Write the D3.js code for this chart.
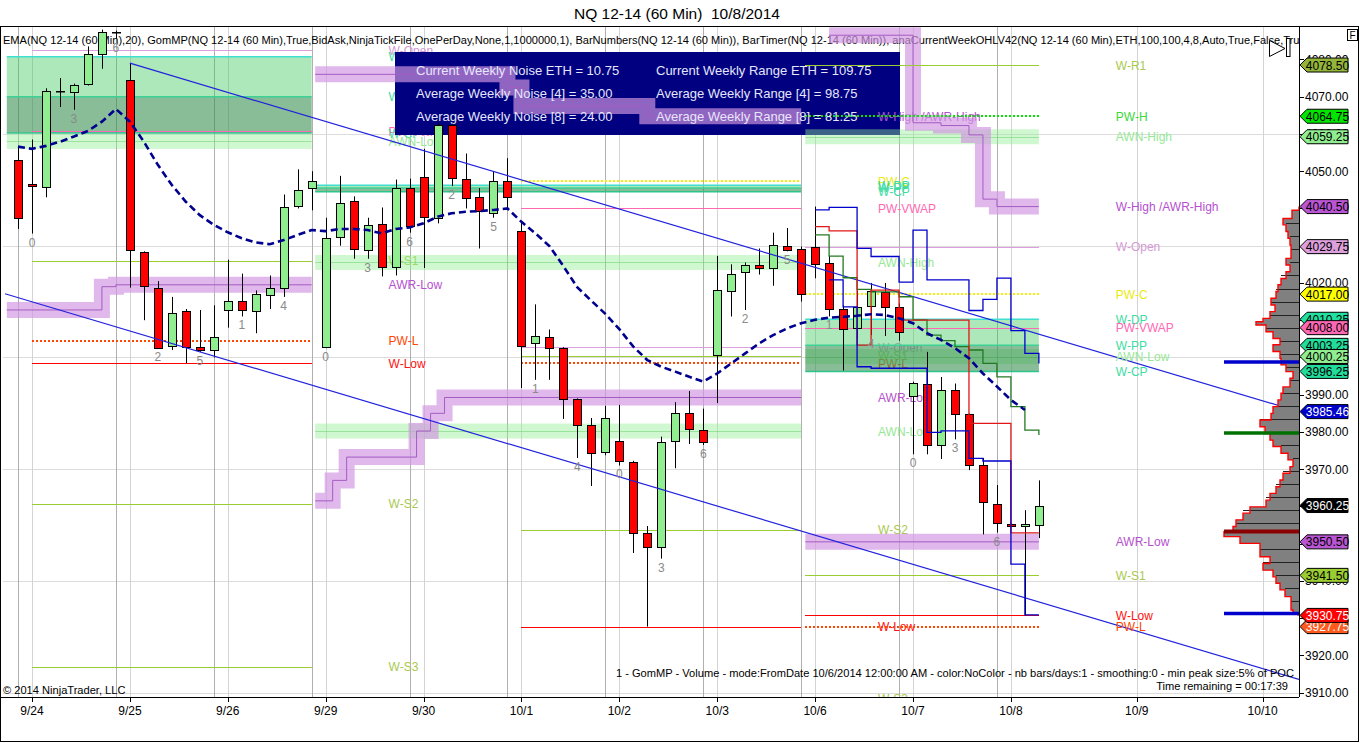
<!DOCTYPE html>
<html><head><meta charset="utf-8">
<script src="https://cdn.jsdelivr.net/npm/d3@7/dist/d3.min.js"></script>
<style>
html,body{margin:0;padding:0;background:#fff;}
svg{display:block;font-family:"Liberation Sans",Arial,Helvetica,sans-serif;}
</style></head><body>
<svg id="chart" width="1360" height="743"></svg>
<script>
// ================= DATA =================
// hourly bars, index 0 = last bar of 9/23
const opens = [4053,4046.5,4045.75,4071.5,4071.5,4073.5,4081.5,4087.5,4074.5,4028.25,
4018.75,4003.25,4012.5,4002.75,4002,4012.75,4015.25,4012.5,4017,4018.75,
4040.75,4045.25,4002.75,4032.25,4042,4028.75,4035.75,4024.25,4045.5,4048.5,
4037.5,4062.5,4048,4043,4038.75,4047.25,4034,4003.75,4005.5,4002.5,
3988.75,3982,3974.5,3977.5,3972,3953,3949,3977.5,3985,3980.5,
4000.5,4018,4023,4024.75,4024,4030,4029,4029.75,4025.25,4013,
4007.75,4013.75,4017.5,4013.5,3989.75,3993,3976.5,3991.25,3984.75,3971,
3960.75,3955.25,3954.75,3955.25];
const highs = [4056.5,4058.5,4072.25,4075,4073.5,4083.5,4088,4087.75,4079,4028.5,
4020.5,4016.25,4013,4012.75,4014,4026.25,4022.5,4018,4022,4043.75,
4050.5,4050,4037.5,4048.75,4043.25,4037.5,4040.25,4047.75,4048,4056,
4063,4062.75,4054.75,4045.5,4050,4053.5,4036.5,4014.25,4007.5,4002.75,
3989,3983.75,3987,3987.25,3972.25,3954.75,3978.75,3988,3991,3986.25,
4027.25,4025,4025.5,4029.25,4033.5,4034.75,4029.75,4040.5,4027.25,4014,
4018,4020,4020,4014.5,3993.5,4001.5,3994.75,3993,3985,3973,
3965.75,3955.5,3959,3967];
const lows = [4034.5,4033.25,4043,4067.25,4066.5,4073,4077.5,4085.5,4018.75,4010,
4002.5,4002,3998.5,4001.5,4000,4008,4011,4006.5,4013,4016.25,
4040,4039.5,4002.5,4030,4026.5,4026.5,4021.75,4022,4033.5,4024,
4036,4046,4040,4029.25,4037.5,4040.25,3991.75,3994,3994,3983.5,
3973,3965.5,3973.75,3971,3947.5,3927.75,3946,3970.25,3976.75,3976.5,
3987.75,4011,4012.75,4022.25,4019.25,4028.5,4015,4021.25,4011,3996.5,
4005,4006,4005.75,4004.5,3974,3974,3972.75,3978,3969.75,3952.5,
3953,3954.5,3930.75,3951.5];
const closes = [4037.5,4046,4071.5,4071.5,4073.25,4081.5,4087.5,4087.5,4028.75,4019,
4002.75,4012,4002.75,4002,4005.5,4015.25,4012.75,4017,4018.75,4040.5,
4045,4047.25,4032,4041.5,4029,4035.5,4024.25,4045.5,4035.25,4037.75,
4062.5,4048.25,4043,4039.25,4047.25,4043,4003.25,4005.75,4002.5,3988.75,
3981.75,3974.5,3983.75,3972,3953,3949.25,3977.25,3985,3980.75,3977.25,
4018,4022.5,4024.75,4024,4030.25,4029,4017,4025.25,4013,4007.75,
4013.5,4017.75,4013.5,4006.75,3993.25,3976.5,3991.25,3984.75,3971,3961,
3955.75,3954.75,3955.25,3960.25];

// EMA(20), bars 0..72
const emaValues = [4056.6,4056.0,4056.8,4057.9,4059.3,4060.8,4063.3,4066.7,4063.3,4057.9,
4051.7,4046.3,4041.8,4038.2,4035.6,4033.6,4032.0,4030.9,4030.4,4031.5,
4032.9,4034.2,4033.9,4034.5,4034.5,4034.2,4033.3,4034.5,4034.9,4036.0,
4037.8,4038.7,4039.1,4039.3,4039.6,4040.0,4036.4,4033.3,4029.9,4024.5,
4018.8,4015.2,4011.7,4007.6,4002.9,3999.3,3997.5,3996.2,3994.8,3993.5,
3995.7,3998.4,4001.1,4003.8,4006.0,4007.8,4009.2,4010.1,4010.7,4010.9,
4011.2,4011.6,4011.4,4010.5,4009.2,4006.5,4004.7,4002.5,3999.8,3995.7,
3992.2,3988.6,3985.9];

// step lines of the current week (bars 57..73, lower blue 58..73)
const stepBlueHigh = [4039.6,4040.3,4040.3,4029.3,4027.1,4027.1,4020.2,4034.2,4020.8,4020.8,4020.8,4012.6,4015.6,4021.3,4007.2,4001.1,3998.4];
const stepRed = [4035.1,4034.0,4034.0,4003.3,4018.1,4018.1,4010.0,4010.0,4010.0,4010.0,4010.0,3982.3,3982.3,3982.3,3952.9,3952.9,3952.9];
const stepGreen = [4032.9,4027.2,4021.4,4018.3,4017.6,4017.6,4016.3,4010.1,4006.0,4004.5,4002.9,4002.0,3998.4,3994.8,3986.8,3980.5,3979.2];
const stepBlueLow = [4020.8,4013.6,3997.5,3997.1,3997.1,3997.1,3997.1,3979.9,3980.3,3980.3,3972.9,3972.2,3972.2,3944.5,3930.9,3930.9];

// dates on the time axis
const dateLabels = ['9/24','9/25','9/26','9/29','9/30','10/1','10/2','10/3','10/6','10/7','10/8','10/9','10/10'];
const dateIdx = [1,8,15,22,29,36,43,50,57,64,71,80,89];
const sessionEndIdx = [0,7,14,21,28,35,42,49,56,63,70];

// price axis
const priceTicks = [3910,3920,3930,3940,3950,3960,3970,3980,3990,4000,4010,4020,4030,4040,4050,4060,4070,4080];
const gridLevels = [3910,3940,3970,4000,4030,4060];

// weekly levels (three weekly segments)
const weekALevels = [['W-Open',4082.5],['W-DP',4080.75],['W-PP',4070],['PW-VWAP',4060.75],['W-CP',4060.25],['AWN-Low',4058],['W-S1',4026],['AWR-Low',4019.5],['PW-L',4004.5],['W-Low',3998.5],['W-S2',3960.75],['W-S3',3917]];
const weekBLevels = [['W-High /AWR-High',4064.75],['PW-C',4047.25],['W-DP',4046.25],['W-PP',4045.5],['W-CP',4044.5],['PW-VWAP',4040],['AWN-High',4025.5],['W-Open',4002.75],['W-S1',4000.5],['PW-L',3998.5],['AWR-Low',3989.25],['AWN-Low',3980.25],['W-S2',3953.75],['W-Low',3927.75],['W-S3',3908.5]];
const weekCLevels = [['W-R1',4078.5],['PW-H',4064.75],['AWN-High',4059.25],['W-High /AWR-High',4040.5],['W-Open',4029.75],['PW-C',4017],['W-DP',4010.25],['PW-VWAP',4008],['W-PP',4003.25],['AWN-Low',4000.25],['W-CP',3996.25],['AWR-Low',3950.5],['W-S1',3941.5],['W-Low',3930.75],['PW-L',3927.75]];
// bar-index spans of each week's drawings
const weekASpan = {line:[1,21], band:[-0.8,21]};
const weekBSpan = {line:[36,56], band:[21.25,56]};
const weekCSpan = {line:[56.3,73], band:[56.3,73]};

// average weekly range bands (bar index, price)
const awrLowA = [[-0.8,4012.75],[6,4019],[7,4019.5],[21,4019.5]];
const awrHighB = [[21.25,4076],[35,4072.5],[36,4067.5],[45,4064.75],[56,4064.75]];
const awrLowB = [[21.25,3961.5],[22.5,3967],[23.5,3973.25],[28.5,3980.25],[29.5,3985],[30.5,3989.25],[56,3989.25]];
const awrHighC = [[58,4086.5],[64,4063],[66,4062.25],[68,4059.75],[69,4042.5],[70,4040.5],[73,4040.5]];
const awrLowC = [[56.3,3950.5],[73,3950.5]];

// regression channel
const channelUpper = [[8,4079.0],[91.6,3985.46]];
const channelLower = [[-0.93,4017.1],[91.6,3913.56]];

// info box
const noiseLabels = ['Current Weekly Noise ETH','Average Weekly Noise [4]','Average Weekly Noise [8]'];
const noiseValues = [10.75,35.00,24.00];
const rangeLabels = ['Current Weekly Range ETH','Average Weekly Range [4]','Average Weekly Range [8]'];
const rangeValues = [109.75,98.75,81.25];

// GomMP volume profile (price, relative volume)
const profPrice = [4040.5,4039.5,4037.3,4035.6,4033.8,4032,4030.2,4028.4,4026.6,4024.8,4023,4021.2,4019.5,4017.7,4015.9,4014.1,4012.3,4010.5,4009.6,4008.7,4006.9,4005.1,4003.4,4001.6,3999.8,3998,3996.2,3994.4,3992.1,3990.4,3988.6,3986.8,3985,3983.2,3981.4,3979.6,3977.8,3976.1,3974.3,3972.5,3970.7,3968.9,3967.1,3965.3,3963.5,3961.7,3959.9,3958.2,3956.4,3954.6,3953.2,3951.9,3950.1,3948.3,3946.5,3944.7,3942.9,3941.1,3939.4,3937.6,3935.8,3934,3932.2,3931.3,3930.75];
const profVol = [0,7,16,13,11,9,8,8,13,9,13,18,21,23,28,24,29,36,43,33,26,19,26,19,18,13,6,9,16,18,21,26,28,39,34,29,26,18,11,6,9,16,19,23,29,33,49,56,63,66,75,59,39,39,29,36,26,23,19,14,8,8,6,1,0];
const profLines = [4036,4032.5,4029,4025.5,4022,4018.5,4015,4011.5,4008,4004.5,4001,3997.5,3994,3990.5,3987,3983.5,3980,3976.5,3973,3969.5,3966,3962.5,3959,3955.5,3948.5,3945,3941.5,3938,3934.5];
const pocLevel = 3953.25;
const valueAreaLevels = [3998.75,3979.75,3931.25];

// right-axis price markers
const flagValues = [4078.5,4064.75,4059.25,4040.5,4029.75,4017,4010.25,4008,4003.25,4000.25,3996.25,3985.46,3960.25,3950.5,3941.5,3927.75,3930.75];
const flagKinds = ['W-R1','PW-H','AWN-High','W-High','W-Open','PW-C','W-DP','PW-VWAP','W-PP','AWN-Low','W-CP','Channel','Last','AWR-Low','W-S1','PW-L','W-Low'];

// ================= STYLES =================
const lineStyle = {
 'W-R1':['#9acd32',0],'PW-H':['#00e400',1],'W-Open':['#dc9edc',0],'PW-C':['#f0f000',1],
 'PW-VWAP':['#ff69b4',0],'W-S1':['#9acd32',0],'W-S2':['#9acd32',0],'W-S3':['#9acd32',0],
 'PW-L':['#ff4500',1],'W-Low':['#ff0000',0]
};
const labelColor = {
 'W-R1':'#a9c94f','PW-H':'#38d838','AWN-High':'#95e895','AWN-Low':'#95e895',
 'W-High /AWR-High':'#b550d0','AWR-Low':'#b550d0','W-Open':'#d49ad4','PW-C':'#eaea10',
 'W-DP':'#3ddca2','W-PP':'#3ddca2','W-CP':'#3ddca2','PW-VWAP':'#ff69b4',
 'W-S1':'#a9c94f','W-S2':'#a9c94f','W-S3':'#a9c94f','PW-L':'#ff4500','W-Low':'#ff1010'
};
const flagFill = {
 'W-R1':'#94b53a','PW-H':'#00e600','AWN-High':'#90ee90','W-High':'#ba55d3','W-Open':'#dda0dd',
 'PW-C':'#ffff00','W-DP':'#22e0a0','PW-VWAP':'#ff69b4','W-PP':'#22dc9c','AWN-Low':'#90ee90',
 'W-CP':'#22dc9c','Channel':'#0000cd','Last':'#000000','AWR-Low':'#ba55d3','W-S1':'#9acd32',
 'PW-L':'#ff5a1e','W-Low':'#ff0000'
};
const flagText = {'Channel':'#fff','Last':'#fff','PW-L':'#fff','W-Low':'#fff'};

// ================= CHART =================
const svg = d3.select('#chart');
const PL=3, PR=1299, PT=27, PB=697;
const x = d3.scaleLinear().domain([-0.93, 91.6]).range([5, PR]);
const y = d3.scaleLinear().domain([3908.85, 4088.44]).range([PB, 28]);

svg.append('rect').attr('width',1360).attr('height',743).attr('fill','#fff');
svg.append('defs').append('clipPath').attr('id','plotClip')
  .append('rect').attr('x',PL).attr('y',PT).attr('width',PR-PL).attr('height',PB-PT);
const plot = (name)=>svg.append('g').attr('class',name).attr('clip-path','url(#plotClip)');

// ---- grid
const gGrid = plot('grid');
gGrid.selectAll('line.hg').data(gridLevels).join('line')
  .attr('x1',PL).attr('x2',PR).attr('y1',d=>Math.round(y(d))+0.5).attr('y2',d=>Math.round(y(d))+0.5)
  .attr('stroke','#dcdcdc');
gGrid.selectAll('line.vs').data(sessionEndIdx).join('line')
  .attr('x1',d=>Math.round(x(d))+0.5).attr('x2',d=>Math.round(x(d))+0.5).attr('y1',PT).attr('y2',PB)
  .attr('stroke','#b0b0b0');
gGrid.selectAll('line.vd').data(dateIdx).join('line')
  .attr('x1',d=>Math.round(x(d))+0.5).attr('x2',d=>Math.round(x(d))+0.5).attr('y1',PT).attr('y2',PB)
  .attr('stroke','#d4d4d4');
gGrid.append('text').attr('x',3).attr('y',44).attr('font-size',11.05).attr('fill','#000')
  .text('EMA(NQ 12-14 (60 Min),20), GomMP(NQ 12-14 (60 Min),True,BidAsk,NinjaTickFile,OnePerDay,None,1,1000000,1), BarNumbers(NQ 12-14 (60 Min)), BarTimer(NQ 12-14 (60 Min)), anaCurrentWeekOHLV42(NQ 12-14 (60 Min),ETH,100,100,4,8,Auto,True,False,True)');

// ---- helpers
function drawLabels(g, levels, span){
  const lx = x(span.line[1] + 5.5);
  g.selectAll(null).data(levels).join('text')
    .attr('x',lx).attr('y',d=>y(d[1])+4.5).attr('font-size',12)
    .attr('fill',d=>labelColor[d[0]]).text(d=>d[0]);
}
function drawAwnBands(g, levels, span){
  const x1=x(span.band[0]), x2=x(span.band[1]);
  levels.filter(d=>d[0]==='AWN-High'||d[0]==='AWN-Low').forEach(d=>{
    g.append('rect').attr('x',x1).attr('width',x2-x1).attr('y',y(d[1])-7.5).attr('height',15)
      .attr('fill','rgba(144,238,144,0.42)');
    g.append('line').attr('x1',x1).attr('x2',x2).attr('y1',Math.round(y(d[1]))+0.5).attr('y2',Math.round(y(d[1]))+0.5)
      .attr('stroke','rgba(110,210,110,0.55)').attr('stroke-width',1);
  });
}
function drawBox(g, levels, span){
  const get = n => { const f = levels.find(d=>d[0]===n); return f ? f[1] : null; };
  const dp=get('W-DP'), pp=get('W-PP'), cp=get('W-CP');
  const x1=x(span.band[0]), x2=x(span.band[1]);
  g.append('rect').attr('x',x1).attr('width',x2-x1).attr('y',y(dp)).attr('height',y(cp)-y(dp))
    .attr('fill','rgba(60,200,90,0.42)');
  g.append('rect').attr('x',x1).attr('width',x2-x1).attr('y',y(pp)).attr('height',y(cp)-y(pp))
    .attr('fill','rgba(40,80,60,0.28)');
  [[dp,'#40e0d0'],[pp,'#3cd296'],[cp,'#2fc48c']].forEach(([v,c])=>{
    g.append('line').attr('x1',x1).attr('x2',x2).attr('y1',y(v)).attr('y2',y(v))
      .attr('stroke',c).attr('stroke-width',1.5);
  });
}
function drawLevelLines(g, levels, span){
  const x1=x(span.line[0]), x2=x(span.line[1]);
  levels.filter(d=>lineStyle[d[0]]).forEach(d=>{
    const [c,dot]=lineStyle[d[0]];
    const yy = dot ? Math.round(y(d[1])) : Math.round(y(d[1]))+0.5;
    g.append('line').attr('x1',x1).attr('x2',x2).attr('y1',yy).attr('y2',yy)
      .attr('stroke',c).attr('stroke-width',dot?2:1)
      .attr('shape-rendering','crispEdges')
      .attr('stroke-dasharray',dot?'2,2':null);
  });
}
const stepLine = d3.line().x(d=>x(d[0])).y(d=>y(d[1])).curve(d3.curveStepAfter);
function drawAwr(g, pts){
  g.append('path').attr('d',stepLine(pts)).attr('fill','none')
    .attr('stroke','rgba(210,150,226,0.68)').attr('stroke-width',16).attr('stroke-linejoin','miter');
  g.append('path').attr('d',stepLine(pts)).attr('fill','none')
    .attr('stroke','#a45cc4').attr('stroke-width',1);
}

// ---- week A labels (under the info box)
drawLabels(plot('labelsA'), weekALevels, weekASpan);

// ---- info box
const gBox = svg.append('g');
gBox.append('rect').attr('x',395).attr('y',52).attr('width',505).attr('height',83).attr('fill','#000080');

// ---- week B labels
drawLabels(plot('labelsB'), weekBLevels, weekBSpan);

// ---- bands, boxes
const gBands = plot('bands');
drawAwnBands(gBands, weekALevels, weekASpan);
drawAwnBands(gBands, weekBLevels, weekBSpan);
drawAwnBands(gBands, weekCLevels, weekCSpan);
drawBox(gBands, weekALevels, weekASpan);
drawBox(gBands, weekBLevels, weekBSpan);
drawBox(gBands, weekCLevels, weekCSpan);
[awrLowA, awrHighB, awrLowB, awrHighC, awrLowC].forEach(p=>drawAwr(gBands,p));

// ---- level lines
const gLines = plot('levels');
drawLevelLines(gLines, weekALevels, weekASpan);
drawLevelLines(gLines, weekBLevels, weekBSpan);
drawLevelLines(gLines, weekCLevels, weekCSpan);

// ---- info text
const gInfo = svg.append('g').attr('font-size',13).attr('fill','#e6e6fa');
gInfo.selectAll(null).data(noiseLabels).join('text')
  .attr('x',416).attr('y',(d,i)=>75+i*23).text((d,i)=>d+' = '+noiseValues[i].toFixed(2));
gInfo.selectAll(null).data(rangeLabels).join('text')
  .attr('x',656).attr('y',(d,i)=>75+i*23).text((d,i)=>d+' = '+rangeValues[i].toFixed(2));

// ---- candles
const bars = opens.map((o,i)=>({i,o,h:highs[i],l:lows[i],c:closes[i]}));
const gC = plot('candles');
gC.selectAll('line.w').data(bars).join('line')
  .attr('x1',d=>Math.round(x(d.i))+0.5).attr('x2',d=>Math.round(x(d.i))+0.5)
  .attr('y1',d=>y(d.h)).attr('y2',d=>y(d.l)).attr('stroke','#000').attr('stroke-width',1);
gC.selectAll('rect.b').data(bars).join('rect')
  .attr('x',d=>Math.round(x(d.i))-3.5).attr('width',8)
  .attr('y',d=>Math.round(y(Math.max(d.o,d.c)))+0.5)
  .attr('height',d=>Math.max(0.5,Math.round(Math.abs(y(d.o)-y(d.c)))))
  .attr('fill',d=>d.c>d.o?'#90ee90':(d.c<d.o?'#ff0000':'#000'))
  .attr('stroke','#000').attr('stroke-width',1);

// ---- regression channel
const gReg = plot('channel');
[channelUpper, channelLower].forEach(p=>{
  gReg.append('line').attr('x1',x(p[0][0])).attr('y1',y(p[0][1])).attr('x2',x(p[1][0])).attr('y2',y(p[1][1]))
    .attr('stroke','#2222dd').attr('stroke-width',1.2);
});

// ---- step lines of current week
const gStep = plot('steps');
const mk = (arr, start)=>arr.map((v,k)=>[start+k, v]);
[[stepGreen,57,'#237a23'],[stepRed,57,'#e01818'],[stepBlueHigh,57,'#0000cc'],[stepBlueLow,58,'#0000cc']].forEach(([arr,s,c])=>{
  gStep.append('path').attr('d',stepLine(mk(arr,s))).attr('fill','none').attr('stroke',c).attr('stroke-width',1.3);
});

// ---- EMA
plot('ema').append('path')
  .attr('d',d3.line().x((d,i)=>x(i)).y(d=>y(d))(emaValues))
  .attr('fill','none').attr('stroke','#00008f').attr('stroke-width',2.6).attr('stroke-dasharray','7,4');

// ---- bar numbers
const numbered = bars.filter(d=>d.i>=1 && d.i<=70 && (d.i-1)%3===0);
plot('barnums').selectAll('text').data(numbered).join('text')
  .attr('x',d=>x(d.i)).attr('y',d=>y(d.l)+13).attr('text-anchor','middle')
  .attr('font-size',12).attr('fill','#8a8a8a').text(d=>(d.i-1)%7);

// ---- week C labels
drawLabels(plot('labelsC'), weekCLevels, weekCSpan);

// ---- volume profile
const gP = svg.append('g');
const vol = d3.scaleLinear().domain([0,d3.max(profVol)]).range([0,75]);
const pts=[[PR,y(profPrice[0])]];
for(let k=0;k<profPrice.length-1;k++){
  pts.push([PR-vol(profVol[k]),y(profPrice[k])]);
  pts.push([PR-vol(profVol[k]),y(profPrice[k+1])]);
}
pts.push([PR,y(profPrice[profPrice.length-1])]);
gP.append('path').attr('d',d3.line()(pts)+'Z').attr('fill','#808080').attr('stroke','none');
profLines.forEach(L=>{
  let k=d3.leastIndex(profPrice,p=>Math.abs(p-L));
  const yy=Math.round(y(L))+0.5;
  gP.append('line').attr('x1',PR-vol(profVol[k])).attr('x2',PR).attr('y1',yy).attr('y2',yy).attr('stroke','#222').attr('stroke-width',1);
});
gP.append('path').attr('d',d3.line()(pts.slice(1,-1))).attr('fill','none').attr('stroke','#ff0000').attr('stroke-width',1.4);
gP.append('line').attr('x1',PR-vol(d3.max(profVol))).attr('x2',PR).attr('y1',y(pocLevel)).attr('y2',y(pocLevel))
  .attr('stroke','#8b0000').attr('stroke-width',4);
valueAreaLevels.forEach((v,i)=>{
  gP.append('line').attr('x1',PR-vol(d3.max(profVol))).attr('x2',PR).attr('y1',y(v)).attr('y2',y(v))
    .attr('stroke',i===1?'#007000':'#0000cc').attr('stroke-width',3.5);
});

// ---- axes
const gAx = svg.append('g');
gAx.append('line').attr('x1',PR+0.5).attr('x2',PR+0.5).attr('y1',PT).attr('y2',PB).attr('stroke','#000');
gAx.append('line').attr('x1',0).attr('x2',PR).attr('y1',PB+0.5).attr('y2',PB+0.5).attr('stroke','#000');
gAx.selectAll('line.t').data(priceTicks).join('line')
  .attr('x1',PR).attr('x2',PR+5).attr('y1',d=>Math.round(y(d))+0.5).attr('y2',d=>Math.round(y(d))+0.5).attr('stroke','#000');
gAx.selectAll('text.t').data(priceTicks).join('text')
  .attr('x',PR+6).attr('y',d=>y(d)+4.5).attr('font-size',12).attr('fill','#000').text(d=>d.toFixed(2));
gAx.selectAll('line.d').data(dateIdx).join('line')
  .attr('x1',d=>Math.round(x(d))+0.5).attr('x2',d=>Math.round(x(d))+0.5).attr('y1',PB).attr('y2',PB+5).attr('stroke','#000');
gAx.selectAll('text.d').data(dateLabels).join('text')
  .attr('x',(d,i)=>x(dateIdx[i])).attr('y',715).attr('text-anchor','middle').attr('font-size',12).text(d=>d);

// ---- flags
const gF = svg.append('g');
flagValues.forEach((v,i)=>{
  const k=flagKinds[i], fy=y(v);
  gF.append('path').attr('d',`M${PR+1},${fy} L${PR+8},${fy-7} L1348,${fy-7} L1348,${fy+7} L${PR+8},${fy+7} Z`)
    .attr('fill',flagFill[k]).attr('stroke','#000').attr('stroke-width',1);
  gF.append('text').attr('x',1327.5).attr('y',fy+4.5).attr('text-anchor','middle').attr('font-size',12)
    .attr('fill',flagText[k]||'#000').text(v.toFixed(2));
});

// ---- title, frame, texts
svg.append('text').attr('x',677).attr('y',19).attr('text-anchor','middle').attr('font-size',15.5)
  .text('NQ 12-14 (60 Min)\u00a0\u00a010/8/2014');
svg.append('rect').attr('x',0.5).attr('y',26.5).attr('width',1358).attr('height',715).attr('fill','none').attr('stroke','#000');
// play / pause icon
svg.append('path').attr('d','M1269.5,40.5 L1285,48.5 L1269.5,56.5 Z').attr('fill','#fff').attr('stroke','#000');
svg.append('rect').attr('x',1286.5).attr('y',38.5).attr('width',3.5).attr('height',18).attr('fill','#fff').attr('stroke','#000');
// F box
svg.append('rect').attr('x',1347.5).attr('y',29.5).attr('width',10).attr('height',11).attr('fill','#fff').attr('stroke','#000');
svg.append('text').attr('x',1352.5).attr('y',39).attr('text-anchor','middle').attr('font-size',10).text('F');
// footer texts
svg.append('text').attr('x',1294).attr('y',677).attr('text-anchor','end').attr('font-size',11.1)
  .text('1 - GomMP - Volume - mode:FromDate 10/6/2014 12:00:00 AM - color:NoColor - nb bars/days:1 - smoothing:0 - min peak size:5% of POC');
svg.append('text').attr('x',1288).attr('y',690).attr('text-anchor','end').attr('font-size',11.1)
  .text('Time remaining = 00:17:39');
svg.append('text').attr('x',3).attr('y',694).attr('font-size',11.1).text('\u00a9 2014 NinjaTrader, LLC');
</script>
</body></html>
